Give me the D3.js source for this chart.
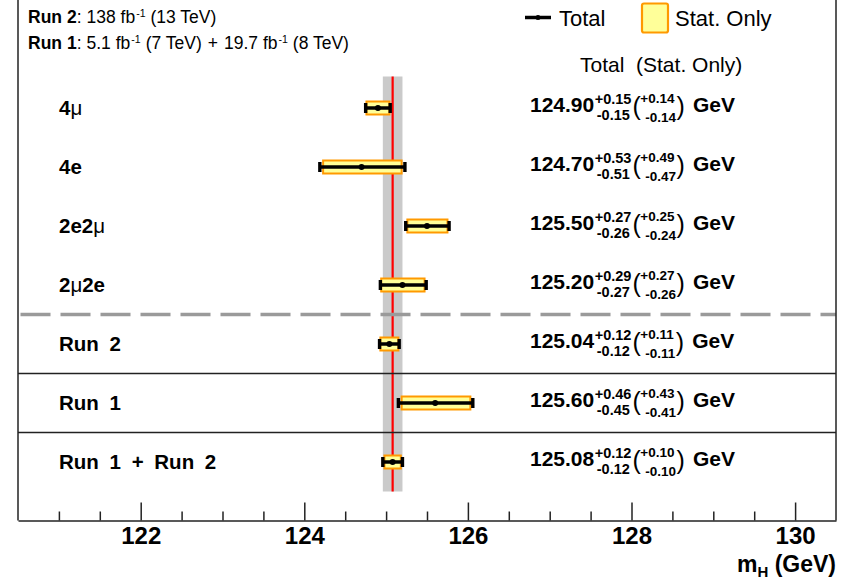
<!DOCTYPE html>
<html>
<head>
<meta charset="utf-8">
<script src="https://cdn.jsdelivr.net/npm/d3@7"></script>
<style>
  body { margin: 0; background: #fff; }
  svg { font-family: "Liberation Sans", Arial, Helvetica, sans-serif; }
</style>
</head>
<body>
<div id="chart"></div>
<script>
// Measurements per channel / run period.
const labels = ["4μ", "4e", "2e2μ", "2μ2e", "Run 2", "Run 1", "Run 1 + Run 2"];
const central = [124.90, 124.70, 125.50, 125.20, 125.04, 125.60, 125.08];
const totUp = [0.15, 0.53, 0.27, 0.29, 0.12, 0.46, 0.12];
const totDn = [0.15, 0.51, 0.26, 0.27, 0.12, 0.45, 0.12];
const statUp = [0.14, 0.49, 0.25, 0.27, 0.11, 0.43, 0.10];
const statDn = [0.14, 0.47, 0.24, 0.26, 0.11, 0.41, 0.10];
const majorTicks = [122, 124, 126, 128, 130];
const minorTicks = [121, 121.5, 122.5, 123, 123.5, 124.5, 125, 125.5, 126.5, 127, 127.5, 128.5, 129, 129.5];

const width = 854;
const height = 580;
const frame = {left: 18, right: 836, axisY: 520.5};

const svg = d3.select("#chart")
    .append("svg")
    .attr("width", width)
    .attr("height", height);

// Scales.
const x = d3.scaleLinear().domain([120.5, 130.5]).range([frame.left, frame.right]);
const y = d3.scaleBand().domain(d3.range(labels.length)).range([78.5, 491.5]);
const cy = i => y(i) + y.bandwidth() / 2;

const fmt = d3.format(".2f");
const combined = labels.length - 1;

// Combined result band + red line.
svg.append("rect")
    .attr("x", x(central[combined] - totDn[combined]))
    .attr("y", y(0) - 2)
    .attr("width", x(central[combined] + totUp[combined]) - x(central[combined] - totDn[combined]))
    .attr("height", y(combined) + y.bandwidth() - y(0) + 2)
    .attr("fill", "#cacaca");

svg.append("line")
    .attr("x1", x(central[combined])).attr("x2", x(central[combined]))
    .attr("y1", y(0) - 2).attr("y2", y(combined) + y.bandwidth())
    .attr("stroke", "#ff0000")
    .attr("stroke-width", 2.2);

// Separators.
svg.append("line")
    .attr("x1", frame.left).attr("x2", frame.right)
    .attr("y1", y(4)).attr("y2", y(4))
    .attr("stroke", "#9a9a9a")
    .attr("stroke-width", 3.5)
    .attr("stroke-dasharray", "30,10")
    .attr("stroke-dashoffset", -2.5);

[5, 6].forEach(i => {
    svg.append("line")
        .attr("x1", frame.left).attr("x2", frame.right)
        .attr("y1", y(i)).attr("y2", y(i))
        .attr("stroke", "#222")
        .attr("stroke-width", 1.3);
});

// Stat boxes.
svg.selectAll("rect.stat")
    .data(central)
    .enter()
    .append("rect")
    .attr("class", "stat")
    .attr("x", (d, i) => x(d - statDn[i]))
    .attr("y", (d, i) => cy(i) - 6.5)
    .attr("width", (d, i) => x(d + statUp[i]) - x(d - statDn[i]))
    .attr("height", 13)
    .attr("fill", "#ffff99")
    .attr("stroke", "#ff9900")
    .attr("stroke-width", 2);

// Total error bars.
central.forEach((d, i) => {
    const xl = x(d - totDn[i]);
    const xr = x(d + totUp[i]);
    svg.append("line")
        .attr("x1", xl).attr("x2", xr)
        .attr("y1", cy(i)).attr("y2", cy(i))
        .attr("stroke", "#000")
        .attr("stroke-width", 3.5);
    [xl, xr].forEach(xc => {
        svg.append("rect")
            .attr("x", xc - 1.7)
            .attr("y", cy(i) - 5)
            .attr("width", 3.4)
            .attr("height", 10)
            .attr("fill", "#000");
    });
    svg.append("circle")
        .attr("cx", x(d))
        .attr("cy", cy(i))
        .attr("r", 3)
        .attr("fill", "#000");
});

// Row labels (mu drawn in normal weight like the Symbol font).
labels.forEach((lab, i) => {
    const t = svg.append("text")
        .attr("x", 59)
        .attr("y", cy(i) + 7)
        .attr("font-size", "20.5px")
        .attr("font-weight", "bold")
        .attr("word-spacing", "5px")
        .attr("fill", "#000");
    lab.split(/(μ)/).filter(s => s.length).forEach(part => {
        t.append("tspan")
            .attr("font-weight", part === "μ" ? "normal" : "bold")
            .text(part);
    });
});

// Value texts: central^{+up}_{-dn} (^{+up}_{-dn}) GeV
const addText = (xx, yy, size, weight, str) => svg.append("text")
    .attr("x", xx).attr("y", yy)
    .attr("font-size", size + "px")
    .attr("font-weight", weight)
    .attr("fill", "#000")
    .text(str);
const len = sel => sel.node().getComputedTextLength();

central.forEach((d, i) => {
    const c = cy(i);
    const main = addText(530, c + 4, 21, "bold", fmt(d));
    const x1 = 530 + len(main) + 0.5;
    const sup = addText(x1, c - 4, 14.5, "bold", "+" + fmt(totUp[i]));
    const sub = addText(x1 + 2, c + 12, 14.5, "bold", "-" + fmt(totDn[i]));
    const x2 = Math.max(x1 + len(sup), x1 + 2 + len(sub)) + 1;
    const lp = addText(x2, c + 7, 25, "normal", "(");
    const x3 = x2 + len(lp) - 0.5;
    const isup = addText(x3, c - 5, 13.5, "bold", "+" + fmt(statUp[i]));
    const isub = addText(x3 + 5, c + 14, 13.5, "bold", "-" + fmt(statDn[i]));
    const x4 = Math.max(x3 + len(isup), x3 + 5 + len(isub)) + 0.5;
    const rp = addText(x4, c + 7, 25, "normal", ")");
    addText(x4 + len(rp) + 8, c + 4, 21, "bold", "GeV");
});

// Header lines: segments chained one after another.
const hdrSegs = (yy, segs) => {
    let xx = 28;
    segs.forEach(s => {
        xx += s.gap || 0;
        const t = svg.append("text")
            .attr("x", xx)
            .attr("y", s.sup ? yy - 6.5 : yy)
            .attr("font-size", s.sup ? "10.5px" : "17.5px")
            .attr("font-weight", s.b ? "bold" : "normal")
            .attr("fill", "#000")
            .text(s.t);
        xx += len(t);
    });
};
hdrSegs(23, [
    {t: "Run 2", b: true}, {t: ":"}, {t: "138 fb", gap: 5},
    {t: "-1", sup: true, gap: 1}, {t: "(13 TeV)", gap: 5}
]);
hdrSegs(49, [
    {t: "Run 1", b: true}, {t: ":"}, {t: "5.1 fb", gap: 5},
    {t: "-1", sup: true, gap: 1}, {t: "(7 TeV)", gap: 5}, {t: "+", gap: 6},
    {t: "19.7 fb", gap: 6}, {t: "-1", sup: true, gap: 1}, {t: "(8 TeV)", gap: 5}
]);

// Legend.
const legY = 17.5;
svg.append("line")
    .attr("x1", 525).attr("x2", 551)
    .attr("y1", legY).attr("y2", legY)
    .attr("stroke", "#000").attr("stroke-width", 3.5);
svg.append("circle").attr("cx", 538).attr("cy", legY).attr("r", 2.5).attr("fill", "#000");
addText(559, 26, 22, "normal", "Total");
svg.append("rect")
    .attr("x", 642).attr("y", 3.5)
    .attr("width", 26).attr("height", 29)
    .attr("rx", 2)
    .attr("fill", "#ffff99")
    .attr("stroke", "#ff9900")
    .attr("stroke-width", 2.2);
addText(675, 26, 22, "normal", "Stat. Only");
addText(580, 72, 21, "normal", "Total  (Stat. Only)").style("white-space", "pre");

// Frame.
svg.append("line")
    .attr("x1", frame.left).attr("x2", frame.left)
    .attr("y1", 0).attr("y2", frame.axisY)
    .attr("stroke", "#222").attr("stroke-width", 1.5);
svg.append("line")
    .attr("x1", frame.right).attr("x2", frame.right)
    .attr("y1", 0).attr("y2", frame.axisY)
    .attr("stroke", "#222").attr("stroke-width", 1.5);

// Axis: major ticks with labels, minor ticks without.
const axMajor = svg.append("g")
    .attr("transform", `translate(0,${frame.axisY})`)
    .call(d3.axisBottom(x).tickValues(majorTicks).tickSize(-18).tickSizeOuter(0).tickPadding(6).tickFormat(d3.format("d")));
axMajor.selectAll("path, line").attr("stroke", "#222").attr("stroke-width", 1.5);
axMajor.selectAll("text")
    .attr("font-size", "24px")
    .attr("font-weight", "bold")
    .attr("font-family", "'Liberation Sans', Arial, sans-serif")
    .attr("fill", "#000");

const axMinor = svg.append("g")
    .attr("transform", `translate(0,${frame.axisY})`)
    .call(d3.axisBottom(x).tickValues(minorTicks).tickSize(-9).tickSizeOuter(0).tickFormat(""));
axMinor.select("path").remove();
axMinor.selectAll("line").attr("stroke", "#222").attr("stroke-width", 1.5);

// Axis title.
const title = svg.append("text")
    .attr("x", frame.right)
    .attr("y", 572)
    .attr("text-anchor", "end")
    .attr("font-size", "23px")
    .attr("font-weight", "bold")
    .attr("fill", "#000");
title.append("tspan").text("m");
title.append("tspan").attr("font-size", "15px").attr("dy", 5).text("H");
title.append("tspan").attr("dy", -5).text(" (GeV)");
</script>
</body>
</html>
